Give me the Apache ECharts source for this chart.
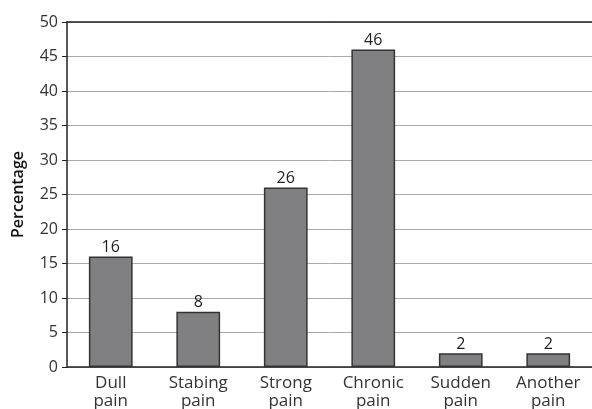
<!DOCTYPE html>
<html>
<head>
<meta charset="utf-8">
<script src="https://cdn.jsdelivr.net/npm/echarts@6/dist/echarts.min.js"></script>
<style>
html,body{margin:0;padding:0;background:#fff;}
#chart{width:592px;height:409px;}
</style>
</head>
<body>
<div id="chart"></div>
<script>
// Pain types and the share of respondents reporting each
const categories = ['Dull\npain', 'Stabing\npain', 'Strong\npain', 'Chronic\npain', 'Sudden\npain', 'Another\npain'];
const percentages = [16, 8, 26, 46, 2, 2];
const yTicks = { min: 0, max: 50, interval: 5 };

const font = '"Open Sans", "Noto Sans", sans-serif';
const chart = echarts.init(document.getElementById('chart'), null, { renderer: 'canvas' });

chart.setOption({
  animation: false,
  backgroundColor: '#fff',
  grid: { left: 67, right: 0, top: 22, bottom: 42, outerBoundsMode: 'none', containLabel: false },
  xAxis: [
    {
      type: 'category',
      data: categories,
      axisLine: { show: true, lineStyle: { color: '#222', width: 1.5 } },
      axisTick: { show: false },
      axisLabel: { color: '#333', fontFamily: font, fontSize: 17, lineHeight: 18, margin: 7 }
    },
    {
      // closing line across the top of the plot
      type: 'category',
      position: 'top',
      data: categories,
      axisLine: { show: true, lineStyle: { color: '#222', width: 1.5 } },
      axisTick: { show: false },
      axisLabel: { show: false }
    }
  ],
  yAxis: {
    type: 'value',
    min: yTicks.min,
    max: yTicks.max,
    interval: yTicks.interval,
    name: 'Percentage',
    nameLocation: 'middle',
    nameGap: 41,
    nameTextStyle: { color: '#111', fontFamily: font, fontSize: 16, fontWeight: 600 },
    axisLine: { show: true, lineStyle: { color: '#222', width: 1.5 } },
    axisTick: { show: true, length: 5, lineStyle: { color: '#222' } },
    axisLabel: { color: '#333', fontFamily: font, fontSize: 16, margin: 9 },
    splitLine: { show: true, lineStyle: { color: '#aaa', width: 1 } }
  },
  series: [{
    type: 'bar',
    data: percentages,
    barWidth: '50%',
    itemStyle: { color: '#808083', borderColor: '#333', borderWidth: 1.5 },
    label: {
      show: true,
      position: 'top',
      distance: 1,
      color: '#222',
      fontFamily: font,
      fontSize: 16
    }
  }]
});
</script>
</body>
</html>
